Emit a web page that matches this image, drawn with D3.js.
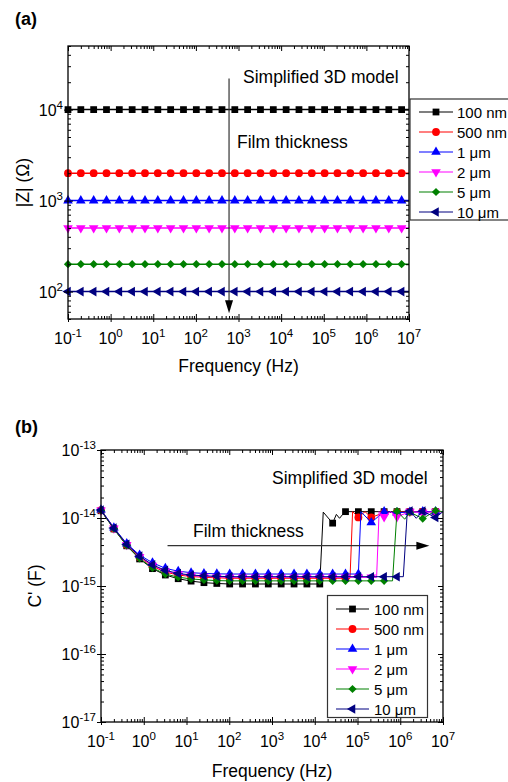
<!DOCTYPE html>
<html>
<head>
<meta charset="utf-8">
<script src="https://cdn.jsdelivr.net/npm/d3@7"></script>
<style>
  body { margin: 0; background: #fff; }
  svg { display: block; font-family: "Liberation Sans", Arial, sans-serif; }
</style>
</head>
<body>
<script>
// ---- data ----
// marker frequencies (Hz)
var freqs = [0.1, 0.2, 0.4, 0.8, 1.6, 3.2, 6.4, 12.8, 25.6, 51.2, 102.4, 204.8, 409.6,
  819.2, 1638.4, 3276.8, 6553.6, 13107.2, 26214.4, 52428.8, 104857.6, 209715.2,
  419430.4, 838860.8, 1677721.6, 3355443.2, 6710886.4];
var lineEndFreq = 1e7;

var names = ["100 nm", "500 nm", "1 \u03bcm", "2 \u03bcm", "5 \u03bcm", "10 \u03bcm"];
var colors = ["#000000", "#ff0000", "#0000ff", "#ff00ff", "#008000", "#000080"];

// (a) |Z| in ohm
var z100nm = [1e4,1e4,1e4,1e4,1e4,1e4,1e4,1e4,1e4,1e4,1e4,1e4,1e4,1e4,1e4,1e4,1e4,1e4,1e4,1e4,1e4,1e4,1e4,1e4,1e4,1e4,1e4];
var z500nm = [2000,2000,2000,2000,2000,2000,2000,2000,2000,2000,2000,2000,2000,2000,2000,2000,2000,2000,2000,2000,2000,2000,2000,2000,2000,2000,2000];
var z1um   = [1000,1000,1000,1000,1000,1000,1000,1000,1000,1000,1000,1000,1000,1000,1000,1000,1000,1000,1000,1000,1000,1000,1000,1000,1000,1000,1000];
var z2um   = [500,500,500,500,500,500,500,500,500,500,500,500,500,500,500,500,500,500,500,500,500,500,500,500,500,500,500];
var z5um   = [200,200,200,200,200,200,200,200,200,200,200,200,200,200,200,200,200,200,200,200,200,200,200,200,200,200,200];
var z10um  = [100,100,100,100,100,100,100,100,100,100,100,100,100,100,100,100,100,100,100,100,100,100,100,100,100,100,100];

// (b) C' in farad, at the marker frequencies
var c100nm = [1.28e-14,6.9e-15,3.9e-15,2.5e-15,1.8e-15,1.45e-15,1.28e-15,1.18e-15,1.12e-15,1.09e-15,
  1.07e-15,1.07e-15,1.07e-15,1.07e-15,1.07e-15,1.07e-15,1.07e-15,1.07e-15,
  8.4e-15,1.24e-14,1.24e-14,1.24e-14,1.24e-14,1.24e-14,1.24e-14,1.24e-14,1.24e-14];
var c500nm = [1.30e-14,7.0e-15,4.0e-15,2.65e-15,1.95e-15,1.6e-15,1.45e-15,1.38e-15,1.34e-15,1.32e-15,
  1.3e-15,1.3e-15,1.3e-15,1.3e-15,1.3e-15,1.3e-15,1.3e-15,1.3e-15,1.3e-15,1.3e-15,
  1.02e-14,1.02e-14,1.2e-14,1.22e-14,1.24e-14,1.24e-14,1.24e-14];
var c1um = [1.32e-14,7.2e-15,4.2e-15,2.85e-15,2.2e-15,1.82e-15,1.65e-15,1.57e-15,1.53e-15,1.51e-15,
  1.5e-15,1.5e-15,1.5e-15,1.5e-15,1.5e-15,1.5e-15,1.5e-15,1.5e-15,1.5e-15,1.5e-15,1.5e-15,
  8.6e-15,1.24e-14,1.2e-14,1.22e-14,1.24e-14,1.24e-14];
var c2um = [1.30e-14,7.05e-15,4.05e-15,2.7e-15,2.0e-15,1.65e-15,1.5e-15,1.42e-15,1.38e-15,1.36e-15,
  1.34e-15,1.34e-15,1.34e-15,1.34e-15,1.34e-15,1.34e-15,1.34e-15,1.34e-15,1.34e-15,1.34e-15,1.34e-15,1.34e-15,
  1.04e-14,1.04e-14,1.24e-14,1.2e-14,1.24e-14];
var c5um = [1.29e-14,6.95e-15,3.95e-15,2.55e-15,1.85e-15,1.5e-15,1.35e-15,1.27e-15,1.23e-15,1.2e-15,
  1.19e-15,1.19e-15,1.19e-15,1.19e-15,1.19e-15,1.19e-15,1.19e-15,1.19e-15,1.19e-15,1.19e-15,1.19e-15,1.19e-15,1.19e-15,
  1.26e-14,1.22e-14,9.8e-15,1.28e-14];
var c10um = [1.31e-14,7.1e-15,4.1e-15,2.75e-15,2.05e-15,1.7e-15,1.53e-15,1.45e-15,1.41e-15,1.39e-15,
  1.37e-15,1.37e-15,1.37e-15,1.37e-15,1.37e-15,1.37e-15,1.37e-15,1.37e-15,1.37e-15,1.37e-15,1.37e-15,1.37e-15,1.37e-15,1.37e-15,
  1.27e-14,1.26e-14,1.02e-14];

// (b) extra line vertices without markers [freq, C']
var x100nm = [[15800,1.22e-14],[32000,1.13e-14],[38000,9.9e-15],[45000,1.13e-14],[1e7,1.24e-14]];
var x500nm = [[66800,1.3e-15],[76800,1.24e-14],[150000,1.24e-14],[1e7,1.24e-14]];
var x1um   = [[120000,1.24e-14],[1e7,1.24e-14]];
var x2um   = [[280000,1.34e-15],[320000,1.24e-14],[590000,1.24e-14],[1e7,1.24e-14]];
var x5um   = [[660000,1.19e-15],[1270000,9.6e-15],[1e7,1.24e-14]];
var x10um  = [[1180000,1.37e-15],[1460000,1.24e-14],[2370000,9.9e-15],[1e7,1.24e-14]];

var zSeries = [z100nm, z500nm, z1um, z2um, z5um, z10um];
var cSeries = [c100nm, c500nm, c1um, c2um, c5um, c10um];
var cExtras = [x100nm, x500nm, x1um, x2um, x5um, x10um];

// ---- drawing ----
var W = 508, H = 782;
var svg = d3.select("body").append("svg").attr("width", W).attr("height", H);

function isPow10(v) {
  var l = Math.log10(v);
  return Math.abs(l - Math.round(l)) < 1e-9;
}

function marker(g, i) {
  var s;
  if (i === 0) s = g.append("path").attr("d", d3.symbol(d3.symbolSquare, 46)());
  else if (i === 1) s = g.append("path").attr("d", d3.symbol(d3.symbolCircle, 48)());
  else if (i === 2) s = g.append("path").attr("d", d3.symbol(d3.symbolTriangle, 40)());
  else if (i === 3) s = g.append("path").attr("d", d3.symbol(d3.symbolTriangle, 40)()).attr("transform", "rotate(180)");
  else if (i === 4) s = g.append("path").attr("d", d3.symbol(d3.symbolSquare, 34)()).attr("transform", "rotate(45)");
  else s = g.append("path").attr("d", d3.symbol(d3.symbolTriangle, 40)()).attr("transform", "rotate(-90)");
  s.attr("fill", colors[i]);
}

function expLabel(g, x, y, v, anchor) {
  var t = g.append("text").attr("x", x).attr("y", y)
    .attr("text-anchor", anchor).attr("font-size", 16).attr("fill", "#000");
  t.append("tspan").text("10");
  t.append("tspan").attr("dy", -7).attr("font-size", 11.5).text(Math.round(Math.log10(v)));
}

function drawAxes(g, x, y) {
  var xr = x.range(), yr = y.range();
  var xMaj = x.ticks().filter(isPow10), xMin = x.ticks().filter(function (v) { return !isPow10(v); });
  var yMaj = y.ticks().filter(isPow10), yMin = y.ticks().filter(function (v) { return !isPow10(v); });

  function ax(axis, tr) {
    var a = g.append("g").attr("transform", tr).call(axis);
    a.select(".domain").remove();
    a.selectAll("text").remove();
    a.selectAll("line").attr("stroke", "#000");
  }
  var b = "translate(0," + yr[0] + ")", t = "translate(0," + yr[1] + ")";
  var l = "translate(" + xr[0] + ",0)", r = "translate(" + xr[1] + ",0)";
  ax(d3.axisBottom(x).tickValues(xMaj).tickSize(-5).tickSizeOuter(0), b);
  ax(d3.axisBottom(x).tickValues(xMaj).tickSize(3).tickSizeOuter(0), b);
  ax(d3.axisBottom(x).tickValues(xMin).tickSize(-3).tickSizeOuter(0), b);
  ax(d3.axisTop(x).tickValues(xMaj).tickSize(-5).tickSizeOuter(0), t);
  ax(d3.axisTop(x).tickValues(xMin).tickSize(-3).tickSizeOuter(0), t);
  ax(d3.axisLeft(y).tickValues(yMaj).tickSize(-5).tickSizeOuter(0), l);
  ax(d3.axisLeft(y).tickValues(yMaj).tickSize(4).tickSizeOuter(0), l);
  ax(d3.axisLeft(y).tickValues(yMin).tickSize(-3).tickSizeOuter(0), l);
  ax(d3.axisRight(y).tickValues(yMaj).tickSize(-5).tickSizeOuter(0), r);
  ax(d3.axisRight(y).tickValues(yMin).tickSize(-3).tickSizeOuter(0), r);

  g.append("rect")
    .attr("x", xr[0]).attr("y", yr[1])
    .attr("width", xr[1] - xr[0]).attr("height", yr[0] - yr[1])
    .attr("fill", "none").attr("stroke", "#000").attr("stroke-width", 1.3);

  xMaj.forEach(function (v) { expLabel(g, x(v), yr[0] + 25, v, "middle"); });
  yMaj.forEach(function (v) { expLabel(g, xr[0] - 5, y(v) + 6, v, "end"); });
}

function drawSeries(g, x, y, vals, extras, i, lw) {
  var pts = freqs.map(function (f, k) { return [f, vals[k]]; }).concat(extras)
    .sort(function (a, b) { return a[0] - b[0]; });
  var line = d3.line().x(function (d) { return x(d[0]); }).y(function (d) { return y(d[1]); });
  g.append("path").datum(pts).attr("d", line)
    .attr("fill", "none").attr("stroke", colors[i]).attr("stroke-width", lw);
  freqs.forEach(function (f, k) {
    marker(g.append("g").attr("transform", "translate(" + x(f) + "," + y(vals[k]) + ")"), i);
  });
}

function legend(g, x0, y0, w, h, lx0, lx1, tx, ey) {
  g.append("rect").attr("x", x0).attr("y", y0).attr("width", w).attr("height", h)
    .attr("fill", "#fff").attr("stroke", "#333").attr("stroke-width", 1.2);
  names.forEach(function (n, i) {
    var yy = ey + i * 20;
    g.append("line").attr("x1", lx0).attr("x2", lx1).attr("y1", yy).attr("y2", yy)
      .attr("stroke", colors[i]).attr("stroke-width", 1.2);
    marker(g.append("g").attr("transform", "translate(" + (lx0 + lx1) / 2 + "," + yy + ")"), i);
    g.append("text").attr("x", tx).attr("y", yy + 5.5).attr("font-size", 15).text(n);
  });
}

function arrowHead(g, x, y, dir) {
  // dir: "down" or "right"
  var p = dir === "down"
    ? [[x - 4, y - 13], [x + 4, y - 13], [x, y]]
    : [[x - 13, y - 4], [x - 13, y + 4], [x, y]];
  g.append("path").attr("d", "M" + p.join("L") + "Z").attr("fill", "#000");
}

// ---------- panel (a) ----------
var ga = svg.append("g");
var xa = d3.scaleLog().domain([0.1, 1e7]).range([68, 409]);
var ya = d3.scaleLog().domain([50, 50000]).range([319, 46]);

zSeries.forEach(function (vals, i) {
  drawSeries(ga, xa, ya, vals, [[lineEndFreq, vals[vals.length - 1]]], i, 1.5);
});
drawAxes(ga, xa, ya);

// annotation arrow (a)
ga.append("line").attr("x1", xa(600)).attr("x2", xa(600))
  .attr("y1", ya(22000)).attr("y2", ya(58) - 10)
  .attr("stroke", "#333").attr("stroke-width", 1.2);
arrowHead(ga, xa(600), ya(58), "down");
ga.append("text").attr("x", 243).attr("y", 83).attr("font-size", 17.5).text("Simplified 3D model");
ga.append("text").attr("x", 237).attr("y", 148).attr("font-size", 17.5).text("Film thickness");

legend(ga, 410, 99, 120, 121, 419, 453, 457, 112);

ga.append("text").attr("x", 15).attr("y", 25).attr("font-size", 18).attr("font-weight", "bold").text("(a)");
ga.append("text").attr("x", (68 + 409) / 2).attr("y", 372).attr("text-anchor", "middle")
  .attr("font-size", 17.5).text("Frequency (Hz)");
ga.append("text").attr("transform", "translate(29," + (46 + 319) / 2 + ") rotate(-90)")
  .attr("text-anchor", "middle").attr("font-size", 17.5).text("|Z| (\u03a9)");

// ---------- panel (b) ----------
var gb = svg.append("g");
var xb = d3.scaleLog().domain([0.1, 1e7]).range([101, 443]);
var yb = d3.scaleLog().domain([1e-17, 1e-13]).range([722, 450]);

cSeries.forEach(function (vals, i) {
  drawSeries(gb, xb, yb, vals, cExtras[i], i, 1);
});
drawAxes(gb, xb, yb);

gb.append("line").attr("x1", xb(3.6)).attr("x2", xb(4.8e6) - 10)
  .attr("y1", yb(3.92e-15)).attr("y2", yb(3.92e-15))
  .attr("stroke", "#333").attr("stroke-width", 1.2);
arrowHead(gb, xb(4.8e6), yb(3.92e-15), "right");
gb.append("text").attr("x", 272).attr("y", 484).attr("font-size", 17.5).text("Simplified 3D model");
gb.append("text").attr("x", 193).attr("y", 537).attr("font-size", 17.5).text("Film thickness");

legend(gb, 327.5, 595.5, 100, 122, 336, 369, 374, 609);

gb.append("text").attr("x", 15).attr("y", 433).attr("font-size", 18).attr("font-weight", "bold").text("(b)");
gb.append("text").attr("x", (101 + 443) / 2).attr("y", 777).attr("text-anchor", "middle")
  .attr("font-size", 17.5).text("Frequency (Hz)");
gb.append("text").attr("transform", "translate(41," + (450 + 722) / 2 + ") rotate(-90)")
  .attr("text-anchor", "middle").attr("font-size", 17.5).text("C' (F)");
</script>
</body>
</html>
